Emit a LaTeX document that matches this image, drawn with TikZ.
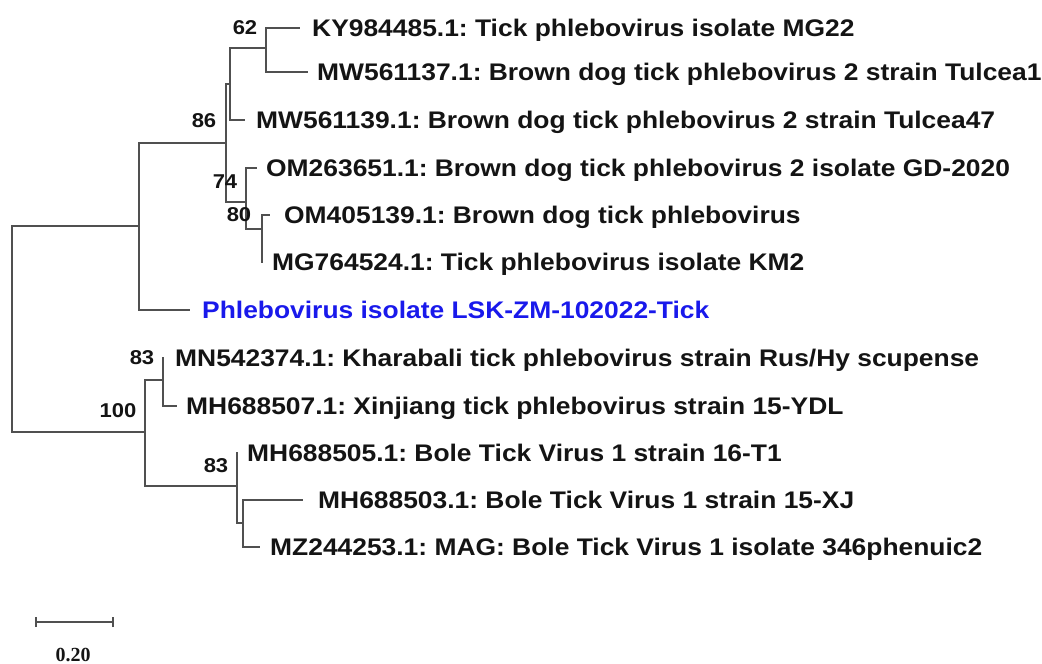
\documentclass[tikz,border=0pt]{standalone}
\usepackage{fontspec}
\newfontfamily\lab{Liberation Sans Bold}[FakeStretch=1.1]
\newfontfamily\scl{Liberation Serif Bold}
\definecolor{brc}{RGB}{80,80,80}
\definecolor{qblue}{RGB}{25,25,235}
\definecolor{txt}{RGB}{20,20,20}
\frenchspacing
\begin{document}
\frenchspacing
\begin{tikzpicture}[x=1pt,y=-1pt,
  br/.style={draw=brc, line width=1.5pt},
  leaf/.style={anchor=west, inner sep=0pt, font=\lab\fontsize{24}{28}\selectfont, text height=23pt, text depth=6pt, text=txt},
  sup/.style={inner sep=0pt, font=\lab\fontsize{20}{24}\selectfont, text=txt}]
\useasboundingbox (0,0) rectangle (1042,664);
% internal nodes
\coordinate (R) at (12,329);
\coordinate (A) at (139,226);
\coordinate (B) at (226,143);
\coordinate (C) at (230,84);
\coordinate (N62) at (266,48);
\coordinate (D) at (246,202);
\coordinate (E) at (262,229);
\coordinate (F) at (145,432);
\coordinate (G) at (163,380);
\coordinate (H) at (237,486);
\coordinate (I) at (243,523);
% tips
\coordinate (t1) at (300,28);
\coordinate (t2) at (308,72);
\coordinate (t3) at (245,120);
\coordinate (t4) at (257,168);
\coordinate (t5) at (270,215);
\coordinate (t6) at (263,262);
\coordinate (t7) at (190,310);
\coordinate (t8) at (164,358);
\coordinate (t9) at (177,406);
\coordinate (t10) at (238,453);
\coordinate (t11) at (303,500);
\coordinate (t12) at (260,547);
% branches
\draw[br] (R) |- (A); \draw[br] (R) |- (F);
\draw[br] (A) |- (B); \draw[br] (A) |- (t7);
\draw[br] (B) |- (C); \draw[br] (B) |- (D);
\draw[br] (C) |- (N62); \draw[br] (C) |- (t3);
\draw[br] (N62) |- (t1); \draw[br] (N62) |- (t2);
\draw[br] (D) |- (t4); \draw[br] (D) |- (E);
\draw[br] (E) |- (t5); \draw[br] (E) |- (t6);
\draw[br] (F) |- (G); \draw[br] (F) |- (H);
\draw[br] (G) |- (t8); \draw[br] (G) |- (t9);
\draw[br] (H) |- (t10); \draw[br] (H) |- (I);
\draw[br] (I) |- (t11); \draw[br] (I) |- (t12);
% leaf labels
\node[leaf] (l1) at (312,28) {KY984485.1: Tick phlebovirus isolate MG22};
\node[leaf] (l2) at (317,72) {MW561137.1: Brown dog tick phlebovirus 2 strain Tulcea1};
\node[leaf] (l3) at (256,120) {MW561139.1: Brown dog tick phlebovirus 2 strain Tulcea47};
\node[leaf] (l4) at (266,168) {OM263651.1: Brown dog tick phlebovirus 2 isolate GD-2020};
\node[leaf] (l5) at (284,215) {OM405139.1: Brown dog tick phlebovirus};
\node[leaf] (l6) at (272,262) {MG764524.1: Tick phlebovirus isolate KM2};
\node[leaf, text=qblue] (l7) at (202,310) {Phlebovirus isolate LSK-ZM-102022-Tick};
\node[leaf] (l8) at (175,358) {MN542374.1: Kharabali tick phlebovirus strain Rus/Hy scupense};
\node[leaf] (l9) at (186,406) {MH688507.1: Xinjiang tick phlebovirus strain 15-YDL};
\node[leaf] (l10) at (247,453) {MH688505.1: Bole Tick Virus 1 strain 16-T1};
\node[leaf] (l11) at (318,500) {MH688503.1: Bole Tick Virus 1 strain 15-XJ};
\node[leaf] (l12) at (270,547) {MZ244253.1: MAG: Bole Tick Virus 1 isolate 346phenuic2};
% support values
\node[sup] (s62) at (245,28) {62};
\node[sup] (s86) at (204,121) {86};
\node[sup] (s74) at (225,182) {74};
\node[sup] (s80) at (239,215) {80};
\node[sup] (s83a) at (142,358) {83};
\node[sup] (s100) at (118,411) {100};
\node[sup] (s83b) at (216,466) {83};
% scale bar
\coordinate (b0) at (36,622);
\coordinate (b1) at (113,622);
\draw[br] (b0) -- (b1);
\draw[br] ([yshift=-5pt]b0) -- ([yshift=5pt]b0);
\draw[br] ([yshift=-5pt]b1) -- ([yshift=5pt]b1);
\node[anchor=base, inner sep=0pt, font=\scl\fontsize{20}{24}\selectfont, text=txt] (bl) at (73,661) {0.20};
\end{tikzpicture}
\end{document}
